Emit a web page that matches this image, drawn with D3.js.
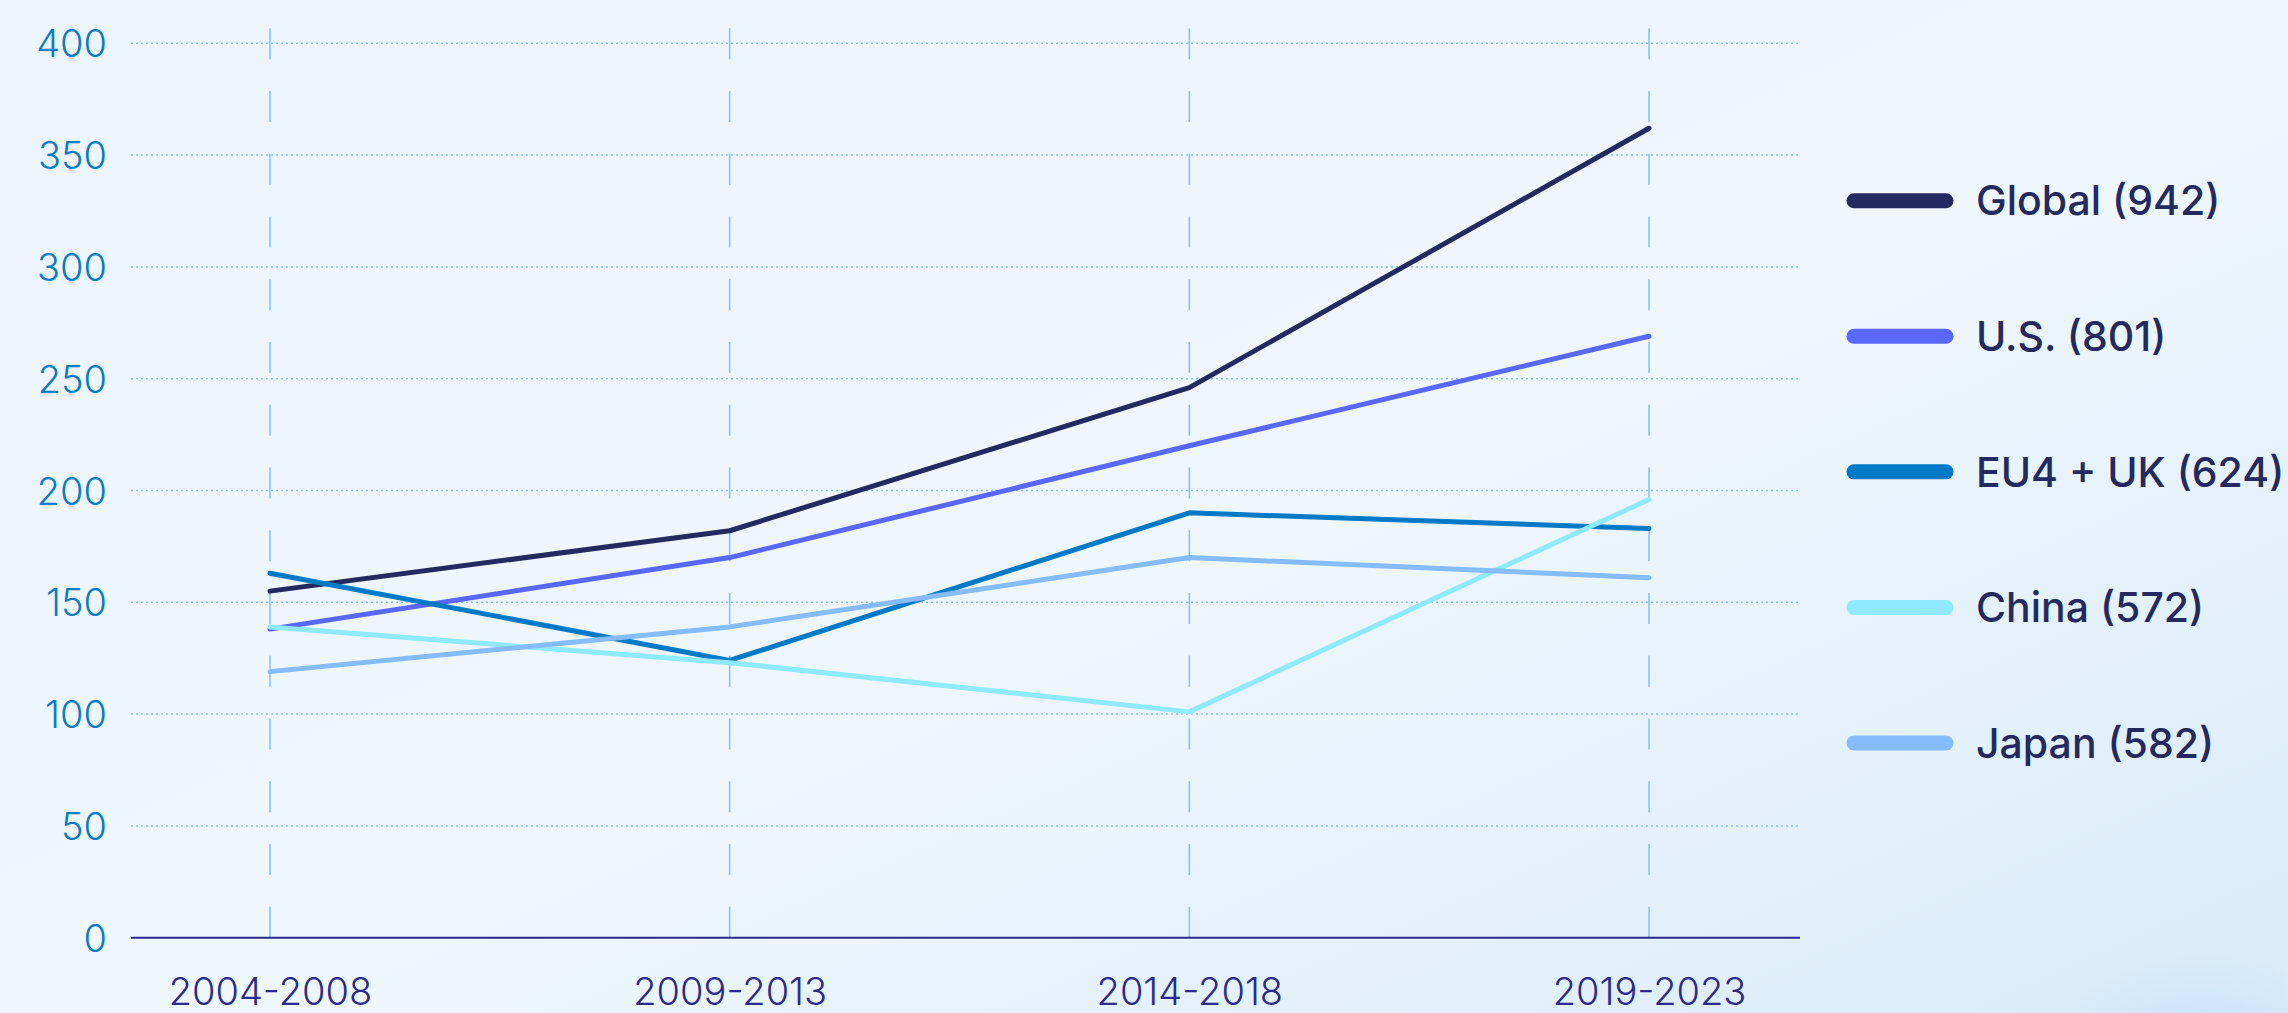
<!DOCTYPE html>
<html>
<head>
<meta charset="utf-8">
<script src="https://cdn.jsdelivr.net/npm/d3@7"></script>
<style>
  html, body { margin: 0; padding: 0; overflow: hidden; }
  body { width: 2288px; height: 1013px; }
  svg { display: block; }
</style>
</head>
<body>
<svg id="chart" width="2288" height="1013"></svg>
<script>
// ---- data ----
const categories = ["2004-2008", "2009-2013", "2014-2018", "2019-2023"];
const seriesNames = ["Global (942)", "U.S. (801)", "EU4 + UK (624)", "China (572)", "Japan (582)"];
const globalValues = [155, 182, 246, 362];
const usValues     = [138, 170, 220, 269];
const euValues     = [163, 124, 190, 183];
const chinaValues  = [139, 123, 101, 196];
const japanValues  = [119, 139, 170, 161];
const yTicks = [0, 50, 100, 150, 200, 250, 300, 350, 400];
const seriesColors = ["#232a5f", "#5a67ff", "#0079c6", "#8fe9ff", "#84bcfd"];

const series = seriesNames.map((name, i) => ({
  name,
  color: seriesColors[i],
  values: [globalValues, usValues, euValues, chinaValues, japanValues][i]
}));

// ---- layout ----
const svg = d3.select("#chart");
const gridLeft = 131, gridRight = 1800;

const x = d3.scalePoint().domain(categories).range([270, 1649]);
const y = d3.scaleLinear().domain([0, 400]).range([937.7, 43.3]);

// background
const defs = svg.append("defs");
const bg = defs.append("linearGradient").attr("id", "bg")
  .attr("x1", "0").attr("y1", "0").attr("x2", "1").attr("y2", "1");
bg.append("stop").attr("offset", "0").attr("stop-color", "#edf5fc");
bg.append("stop").attr("offset", "0.55").attr("stop-color", "#eef7fc");
bg.append("stop").attr("offset", "1").attr("stop-color", "#d9ebf9");
const blob = defs.append("radialGradient").attr("id", "blob");
blob.append("stop").attr("offset", "0").attr("stop-color", "#c3dff7").attr("stop-opacity", 0.9);
blob.append("stop").attr("offset", "1").attr("stop-color", "#c3dff7").attr("stop-opacity", 0);

svg.append("rect").attr("width", 2288).attr("height", 1013).attr("fill", "url(#bg)");
svg.append("ellipse").attr("cx", 2200).attr("cy", 1060).attr("rx", 160).attr("ry", 110)
  .attr("fill", "url(#blob)");

// horizontal dotted gridlines
svg.append("g").selectAll("line")
  .data(yTicks.filter(d => d > 0))
  .join("line")
  .attr("x1", gridLeft).attr("x2", gridRight)
  .attr("y1", d => y(d)).attr("y2", d => y(d))
  .attr("stroke", "#8cc3f5").attr("stroke-width", 1.5)
  .attr("stroke-dasharray", "2,3");

// vertical dashed lines
svg.append("g").selectAll("line")
  .data(categories)
  .join("line")
  .attr("x1", d => x(d)).attr("x2", d => x(d))
  .attr("y1", 28.3).attr("y2", y(0))
  .attr("stroke", "#8cc2f6").attr("stroke-width", 1.6)
  .attr("stroke-dasharray", "31,31.74");

// y axis labels
const yAxis = d3.axisLeft(y).tickValues(yTicks).tickSize(0).tickPadding(0);
const yg = svg.append("g").attr("transform", "translate(107,0)").call(yAxis);
yg.select(".domain").remove();
yg.selectAll("text")
  .attr("fill", "#0a7cc6")
  .attr("font-family", "Inter, 'Liberation Sans', sans-serif")
  .attr("font-size", 38)
  .attr("font-weight", 300)
  .attr("dy", "0.36em");

// x axis
const xAxis = d3.axisBottom(x).tickSize(0).tickPadding(0);
const xg = svg.append("g").attr("transform", `translate(0,${y(0)})`).call(xAxis);
xg.select(".domain").remove();
xg.selectAll("text")
  .attr("fill", "#2b2b8c")
  .attr("font-family", "Inter, 'Liberation Sans', sans-serif")
  .attr("font-size", 38)
  .attr("font-weight", 300)
  .attr("y", 67)
  .attr("dy", 0);

svg.append("line")
  .attr("x1", gridLeft).attr("x2", gridRight)
  .attr("y1", y(0)).attr("y2", y(0))
  .attr("stroke", "#2a2a8e").attr("stroke-width", 2);

// lines
const line = d3.line()
  .x((d, i) => x(categories[i]))
  .y(d => y(d));

svg.append("g").selectAll("path")
  .data(series)
  .join("path")
  .attr("d", d => line(d.values))
  .attr("fill", "none")
  .attr("stroke", d => d.color)
  .attr("stroke-width", 5)
  .attr("stroke-linecap", "round")
  .attr("stroke-linejoin", "round");

// legend
const legendY = d3.scalePoint().domain(seriesNames).range([200.7, 743]);
const lg = svg.append("g").selectAll("g")
  .data(series)
  .join("g")
  .attr("transform", d => `translate(0,${legendY(d.name)})`);
lg.append("line")
  .attr("x1", 1854).attr("x2", 1946)
  .attr("stroke", d => d.color)
  .attr("stroke-width", 15)
  .attr("stroke-linecap", "round");
lg.append("text")
  .attr("x", 1976)
  .attr("dy", "0.36em")
  .attr("fill", "#232a5f")
  .attr("font-family", "Inter, 'Liberation Sans', sans-serif")
  .attr("font-size", 41)
  .attr("font-weight", 500)
  .text(d => d.name);
</script>
</body>
</html>
